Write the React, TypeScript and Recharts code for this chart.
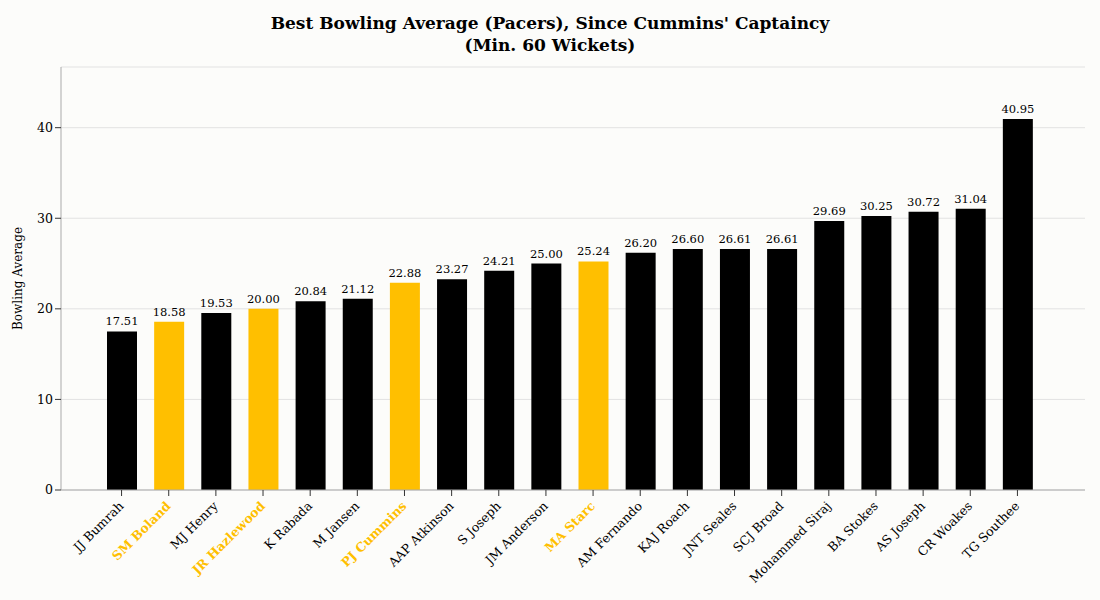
import React from "react";
import { BarChart, Bar, XAxis, YAxis, CartesianGrid, Cell, LabelList, Label } from "recharts";

const players = ["JJ Bumrah","SM Boland","MJ Henry","JR Hazlewood","K Rabada","M Jansen","PJ Cummins","AAP Atkinson","S Joseph","JM Anderson","MA Starc","AM Fernando","KAJ Roach","JNT Seales","SCJ Broad","Mohammed Siraj","BA Stokes","AS Joseph","CR Woakes","TG Southee"];
const averages = [17.51,18.58,19.53,20.0,20.84,21.12,22.88,23.27,24.21,25.0,25.24,26.2,26.6,26.61,26.61,29.69,30.25,30.72,31.04,40.95];
const highlighted = ["SM Boland","JR Hazlewood","PJ Cummins","MA Starc"];
const yTicks = [0,10,20,30,40];

const data = players.map((p, i) => ({ name: p, avg: averages[i] }));
const GOLD = "#FFBF00";
const FONT = "Georgia, 'DejaVu Serif', serif";

const Tick = (props: any) => {
  const { x, y, payload } = props;
  const hl = highlighted.includes(payload.value);
  return (
    <g transform={`translate(${x},${y + 6})`}>
      <text transform="rotate(-45)" textAnchor="end" dy={4} fontSize={12.5} fontFamily={FONT}
        fill={hl ? GOLD : "#000"} fontWeight={hl ? "bold" : "normal"}>{payload.value}</text>
    </g>
  );
};

export default function App() {
  return (
    <div style={{ position: "absolute", left: 0, top: 0, width: 1100, height: 600, background: "#FCFCFA", fontFamily: FONT }}>
      <div style={{ position: "absolute", top: 12, width: 1100, textAlign: "center", fontWeight: "bold", fontSize: 17, lineHeight: "22px" }}>
        Best Bowling Average (Pacers), Since Cummins' Captaincy<br />(Min. 60 Wickets)
      </div>
      <BarChart width={1100} height={600} data={data} margin={{ top: 67, right: 15, bottom: 80, left: 0 }} barSize={30}>
        <CartesianGrid vertical={false} stroke="#e2e2e2" />
        <XAxis dataKey="name" interval={0} tick={<Tick />} padding={{ left: 37, right: 44 }} stroke="#aaa" tickLine={{ stroke: "#333" }} />
        <YAxis width={61} domain={[0, 46.7]} ticks={yTicks} stroke="#aaa" tickLine={{ stroke: "#333" }}
          tick={{ fill: "#000", fontSize: 12.5, fontFamily: FONT }}>
          <Label value="Bowling Average" angle={-90} position="insideLeft" offset={18} style={{ textAnchor: "middle", fontSize: 12, fontFamily: FONT, fill: "#000" }} />
        </YAxis>
        <Bar dataKey="avg" isAnimationActive={false}>
          {data.map((d) => <Cell key={d.name} fill={highlighted.includes(d.name) ? GOLD : "#000"} />)}
          <LabelList dataKey="avg" position="top" offset={6} formatter={(v: any) => Number(v).toFixed(2)}
            style={{ fontSize: 11.5, fontFamily: FONT, fill: "#000" }} />
        </Bar>
      </BarChart>
    </div>
  );
}
